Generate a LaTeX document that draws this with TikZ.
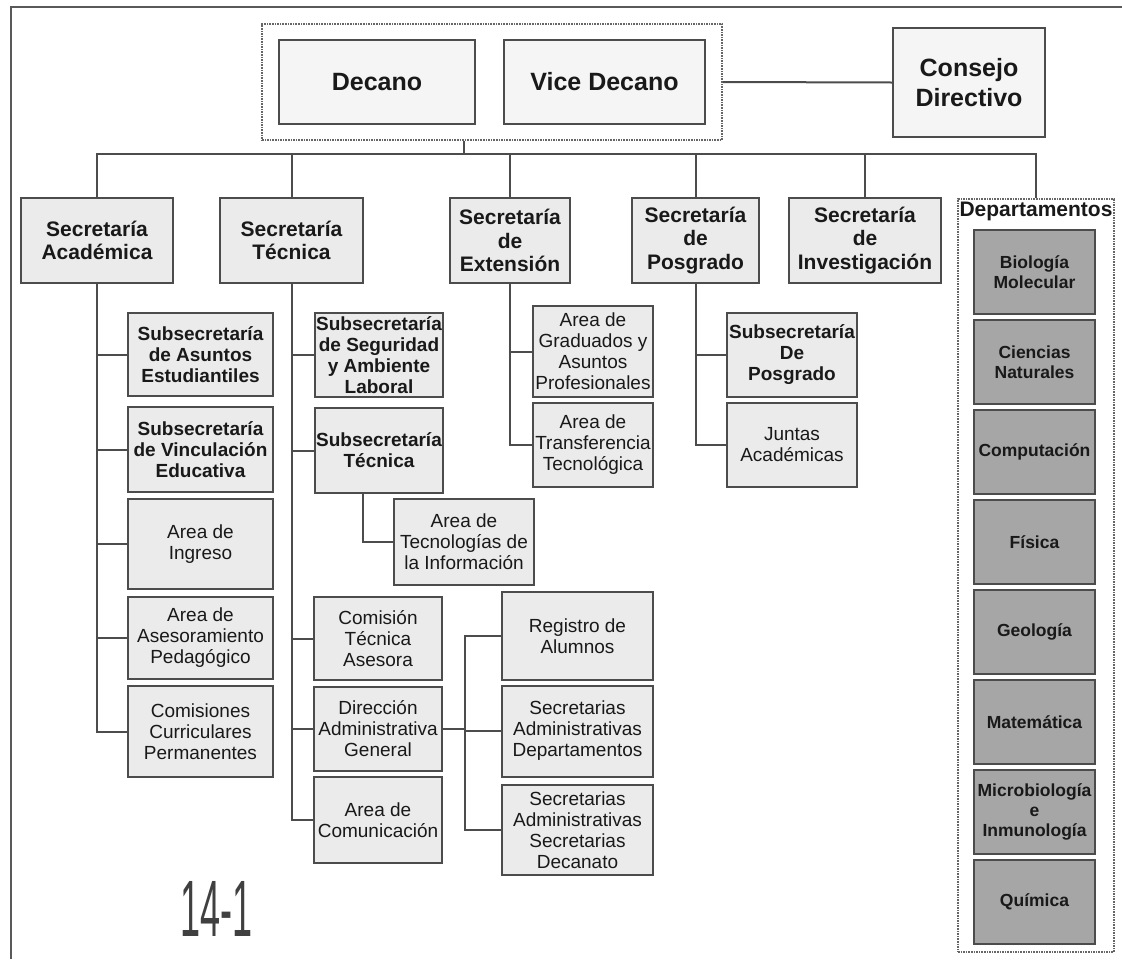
\documentclass[tikz,border=0pt]{standalone}
\usepackage{fontspec}
\setmainfont{Liberation Sans}
\usetikzlibrary{fit}

\tikzset{
  box/.style={draw=black!70, line width=2pt, fill=black!8, text=black!90,
    align=center, inner sep=0pt, font=\fontsize{19}{21}\selectfont},
  boldbox/.style={box, font=\fontsize{19}{21}\selectfont\bfseries},
  secbox/.style={box, minimum height=85pt, font=\fontsize{21}{23.5}\selectfont\bfseries},
  topbox/.style={box, fill=black!4, font=\fontsize{25}{30}\selectfont\bfseries},
  depbox/.style={box, fill=black!35, minimum width=121pt, minimum height=84pt,
    font=\fontsize{17.5}{20}\selectfont\bfseries},
  group/.style={draw=black!60, line width=1.6pt, densely dotted},
  link/.style={draw=black!70, line width=2pt},
}

\begin{document}
\begin{tikzpicture}[x=1pt, y=-1pt]
	\useasboundingbox (0,0) rectangle (1122,959);
	\draw[black!65, line width=2pt] (11,959) -- (11,7) -- (1122,7);

	% autoridades
	\node[topbox, minimum width=196pt, minimum height=84pt] (dec) at (377,82) {Decano};
	\node[topbox, minimum width=201pt, minimum height=84pt] (vdec) at (604.5,82) {Vice Decano};
	\node[group, fit=(dec)(vdec), inner xsep=16pt, inner ysep=15pt] (grp) {};
	\node[topbox, minimum width=152pt, minimum height=109pt] (cons) at (969,82.5) {Consejo\\Directivo};

	% secretarias
	\node[secbox, minimum width=152pt] (acad) at (97,240.5) {Secretaría\\Académica};
	\node[secbox, minimum width=143pt] (tec) at (291.5,240.5) {Secretaría\\Técnica};
	\node[secbox, minimum width=120pt] (ext) at (510,240.5) {Secretaría\\de\\Extensión};
	\node[secbox, minimum width=127pt] (pos) at (695.5,240.5) {Secretaría\\de\\Posgrado};
	\node[secbox, minimum width=152pt] (inv) at (865,240.5) {Secretaría\\de\\Investigación};

	% departamentos
	\node[group, minimum width=156pt, minimum height=753pt] (deps) at (1036,575.5) {};
	\node[anchor=north, font=\fontsize{21}{23.5}\selectfont\bfseries, text=black!90,
		inner sep=0pt] (deplab) at ([yshift=-4pt]deps.north) {Departamentos};
	\foreach \name [count=\i from 0] in {{Biología\\Molecular}, {Ciencias\\Naturales},
		Computación, Física, Geología, Matemática, {Microbiología\\e\\Inmunología}, Química}
		\node[depbox] (dep\i) at (1034.5,272+90*\i) {\name};

	% academica
	\node[boldbox, minimum width=145pt, minimum height=83pt] (sa1) at (200.5,354.5) {Subsecretaría\\de Asuntos\\Estudiantiles};
	\node[boldbox, minimum width=145pt, minimum height=85pt] (sa2) at (200.5,449.5) {Subsecretaría\\de Vinculación\\Educativa};
	\node[box, minimum width=145pt, minimum height=90pt] (sa3) at (200.5,544) {Area de\\Ingreso};
	\node[box, minimum width=145pt, minimum height=82pt] (sa4) at (200.5,638) {Area de\\Asesoramiento\\Pedagógico};
	\node[box, minimum width=145pt, minimum height=91pt] (sa5) at (200.5,731.5) {Comisiones\\Curriculares\\Permanentes};

	% tecnica
	\node[boldbox, minimum width=128pt, minimum height=84pt] (st1) at (379,355) {Subsecretaría\\de Seguridad\\y Ambiente\\Laboral};
	\node[boldbox, minimum width=128pt, minimum height=85pt] (st2) at (379,450.5) {Subsecretaría\\Técnica};
	\node[box, minimum width=140pt, minimum height=86pt] (ti) at (464,542) {Area de\\Tecnologías de\\la Información};
	\node[box, minimum width=128pt, minimum height=83pt] (st3) at (378,638.5) {Comisión\\Técnica\\Asesora};
	\node[box, minimum width=128pt, minimum height=84pt] (st4) at (378,729) {Dirección\\Administrativa\\General};
	\node[box, minimum width=128pt, minimum height=86pt] (st5) at (378,820) {Area de\\Comunicación};

	\node[box, minimum width=151pt, minimum height=88pt] (sd1) at (577.5,636) {Registro de\\Alumnos};
	\node[box, minimum width=151pt, minimum height=91pt] (sd2) at (577.5,731) {Secretarias\\Administrativas\\Departamentos};
	\node[box, minimum width=151pt, minimum height=90pt] (sd3) at (577.5,830) {Secretarias\\Administrativas\\Secretarias\\Decanato};

	% extension y posgrado
	\node[box, minimum width=120pt, minimum height=91pt] (se1) at (593,351.5) {Area de\\Graduados y\\Asuntos\\Profesionales};
	\node[box, minimum width=120pt, minimum height=84pt] (se2) at (593,445) {Area de\\Transferencia\\Tecnológica};
	\node[boldbox, minimum width=130pt, minimum height=84pt] (sp1) at (792,355) {Subsecretaría\\De\\Posgrado};
	\node[box, minimum width=130pt, minimum height=84pt] (sp2) at (792,445) {Juntas\\Académicas};

	\node[anchor=base west, inner sep=0pt, text=black!75,
		font=\fontsize{80}{80}\selectfont] (hw) at (180,936) {\scalebox{0.45}[1]{14-1}};

	% conexiones
	\coordinate (bus) at (464,154);
	\draw[link] (grp.south -| bus) -- (bus);
	\draw[link] (grp.east) -- (cons.west);
	\foreach \s in {acad,tec,ext,pos,inv,deps}
		\draw[link] (bus) -| (\s.north);

	\foreach \c in {sa1,sa2,sa3,sa4,sa5}
		\draw[link] (acad.south) |- (\c.west);
	\foreach \c in {st1,st2,st3,st4,st5}
		\draw[link] (tec.south) |- (\c.west);
	\draw[link] ([xshift=49pt]st2.south west) |- (ti.west);
	\foreach \c in {se1,se2}
		\draw[link] (ext.south) |- (\c.west);
	\foreach \c in {sp1,sp2}
		\draw[link] (pos.south) |- (\c.west);

	\coordinate (dj) at ([xshift=22pt]st4.east);
	\draw[link] (st4.east) -- (dj);
	\foreach \c in {sd1,sd2,sd3}
		\draw[link] (dj) |- (\c.west);
\end{tikzpicture}
\end{document}
